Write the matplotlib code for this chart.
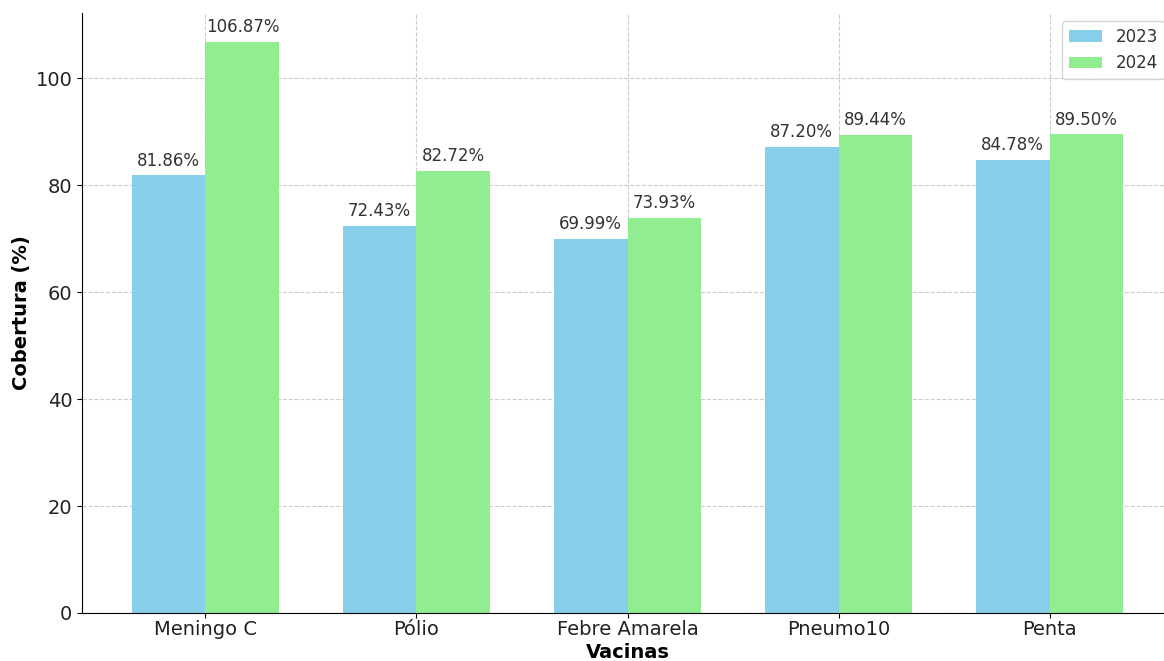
import matplotlib
matplotlib.use("Agg")
import matplotlib.pyplot as plt
import numpy as np

vacinas = ["Meningo C", "Pólio", "Febre Amarela", "Pneumo10", "Penta"]
cob_2023 = [81.86, 72.43, 69.99, 87.20, 84.78]
cob_2024 = [106.87, 82.72, 73.93, 89.44, 89.50]

fig = plt.figure(figsize=(11.64, 6.61), dpi=100)
ax = fig.add_axes([82/1164, 1-613/661, (1173-82)/1164, (613-13)/661])

x = np.arange(len(vacinas))
w = 0.35
b1 = ax.bar(x - w/2, cob_2023, w, color="skyblue", label="2023")
b2 = ax.bar(x + w/2, cob_2024, w, color="lightgreen", label="2024")

for bars in (b1, b2):
    for r in bars:
        ax.annotate(f"{r.get_height():.2f}%", (r.get_x() + r.get_width()/2, r.get_height()),
                    xytext=(0, 4), textcoords="offset points", ha="center", va="bottom",
                    fontsize=12, color="#333333")

ax.set_xticks(x)
ax.set_xticklabels(vacinas, fontsize=14, color="#222222")
ax.tick_params(axis="y", labelsize=14, labelcolor="#222222")
ax.tick_params(axis="x", pad=1.5)
ax.set_xlabel("Vacinas", fontsize=14, fontweight="bold", labelpad=3)
ax.set_ylabel("Cobertura (%)", fontsize=14, fontweight="bold", labelpad=3)
ax.grid(True, linestyle="--", color="#cccccc", linewidth=0.8)
ax.set_axisbelow(True)
ax.spines["top"].set_visible(False)
ax.spines["right"].set_visible(False)
ax.legend(loc="upper right", fontsize=12, bbox_to_anchor=(1.0, 1.0),
          handlelength=2.0, labelcolor="#333333")

fig.savefig("out.png", dpi=100)
